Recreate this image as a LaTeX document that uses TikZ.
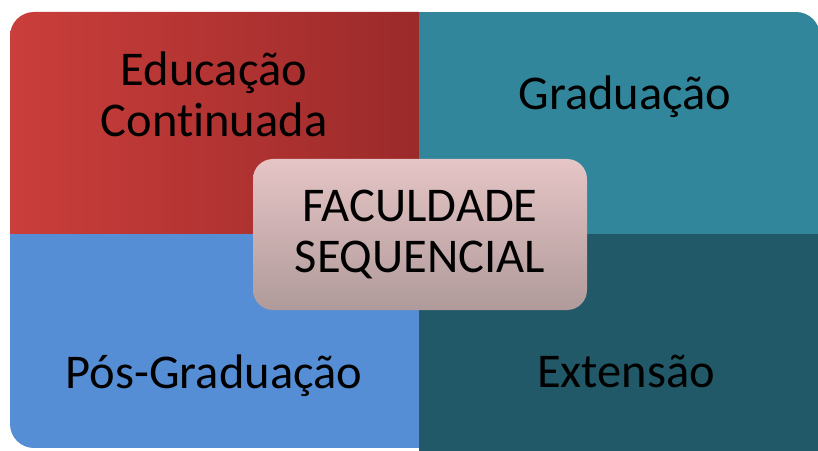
\documentclass[tikz,border=0pt]{standalone}
\usepackage{fontspec}
\setmainfont[Ligatures={NoCommon}]{Carlito}
\definecolor{redL}{RGB}{202,62,59}
\definecolor{redR}{RGB}{155,42,42}
\definecolor{tealA}{RGB}{49,134,155}
\definecolor{blueA}{RGB}{85,142,213}
\definecolor{tealB}{RGB}{33,89,104}
\definecolor{pinkT}{RGB}{230,197,198}
\definecolor{pinkB}{RGB}{176,154,154}
\tikzset{txt/.style={font=\fontsize{48.5}{51}\selectfont, inner sep=0pt,
  align=center, text=black}}

\begin{document}
\begin{tikzpicture}[x=1pt, y=1pt]
  \useasboundingbox (0,0) rectangle (818,450);
  \begin{scope}
    \clip[rounded corners=24pt] (10,2) rectangle (820,438);
    \shade[left color=redL, right color=redR] (10,216) rectangle (419,438);
    \fill[tealA] (419,216) rectangle (820,438);
    \fill[blueA] (10,2) rectangle (419,216);
  \end{scope}
  \fill[tealB] (419,-2) rectangle (820,216);
  \node[txt, anchor=base] (edu) at (214,313) {Educação\\Continuada};
  \node[txt, anchor=base] (grad) at (625,340) {Graduação};
  \node[txt, anchor=base] (pos) at (214,62) {Pós-Graduação};
  \node[txt, anchor=base] (ext) at (626,63) {Extensão};
  \node[txt, rounded corners=20pt, minimum width=334pt, minimum height=151pt,
    top color=pinkT, bottom color=pinkB] (fac) at (420,215.5)
    {FACULDADE\\SEQUENCIAL};
\end{tikzpicture}
\end{document}
